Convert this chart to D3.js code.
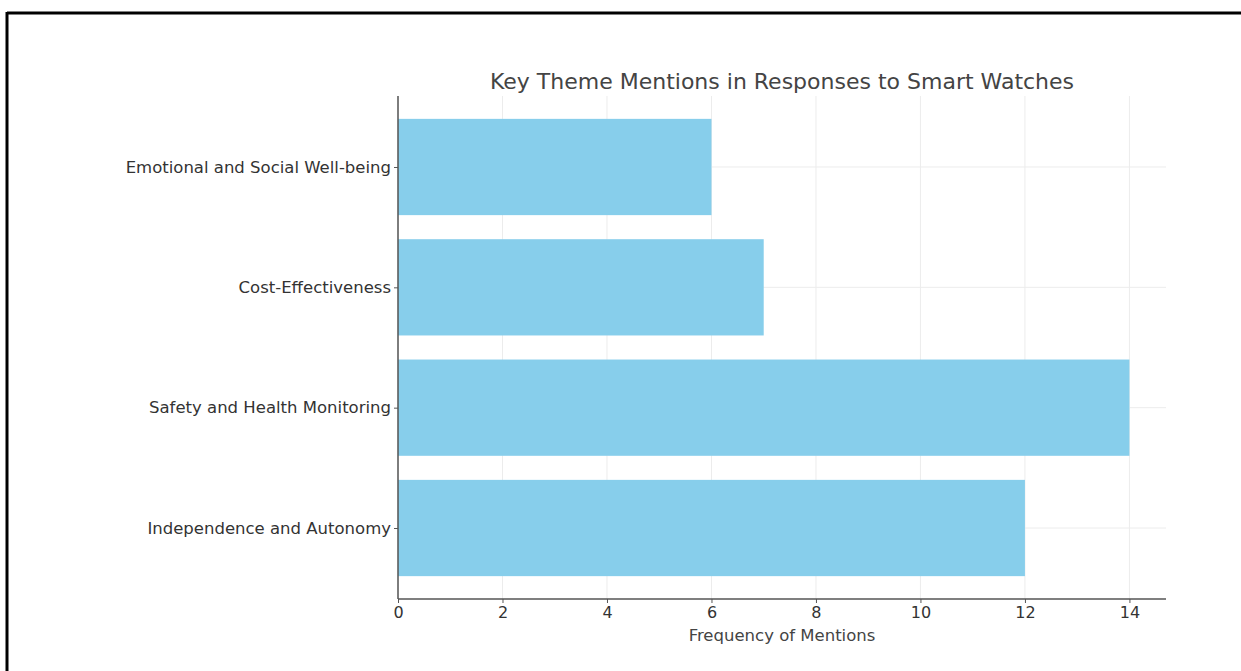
<!DOCTYPE html>
<html>
<head>
<meta charset="utf-8">
<script src="https://cdn.jsdelivr.net/npm/d3@7"></script>
<style>
  html, body { margin: 0; padding: 0; background: #fff; }
  svg { display: block; }
  text { font-family: "DejaVu Sans", sans-serif; }
</style>
</head>
<body>
<svg id="chart" width="1241" height="671"></svg>
<script>
// Themes, listed bottom to top as they appear on the chart
const themes = [
  "Independence and Autonomy",
  "Safety and Health Monitoring",
  "Cost-Effectiveness",
  "Emotional and Social Well-being"
];
const mentions = [12, 14, 7, 6];
const xTicks = [0, 2, 4, 6, 8, 10, 12, 14];

const svg = d3.select("#chart");
const W = 1241, H = 671;

// Outer frame (top and left edges)
svg.append("rect").attr("x", 0).attr("y", 0).attr("width", W).attr("height", H).attr("fill", "#fff");
svg.append("line").attr("x1", 7).attr("x2", W).attr("y1", 13).attr("y2", 13)
  .attr("stroke", "#000").attr("stroke-width", 3);
svg.append("line").attr("x1", 7).attr("x2", 7).attr("y1", 12).attr("y2", H)
  .attr("stroke", "#000").attr("stroke-width", 3);

const plot = { left: 398, right: 1166, top: 96, bottom: 599 };

const xMax = d3.max(mentions) * 1.05;
const x = d3.scaleLinear().domain([0, xMax]).range([plot.left, plot.right]);

// Category positions: bars centered on integer indices, with 5% margin
const n = themes.length;
const yPad = 0.4 + (n - 1 + 0.8) * 0.05;
const y = d3.scaleLinear().domain([-yPad, n - 1 + yPad]).range([plot.bottom, plot.top]);
const barHalf = 0.4;

// Grid
const grid = svg.append("g").attr("stroke", "#ececec").attr("stroke-width", 1);
grid.selectAll("line.vx").data(xTicks).join("line")
  .attr("x1", d => x(d)).attr("x2", d => x(d))
  .attr("y1", plot.top).attr("y2", plot.bottom);
grid.selectAll("line.hy").data(themes).join("line")
  .attr("x1", plot.left).attr("x2", plot.right)
  .attr("y1", (d, i) => y(i)).attr("y2", (d, i) => y(i));

// Bars
svg.append("g").selectAll("rect").data(mentions).join("rect")
  .attr("x", x(0))
  .attr("y", (d, i) => y(i + barHalf))
  .attr("width", d => x(d) - x(0))
  .attr("height", (d, i) => y(i - barHalf) - y(i + barHalf))
  .attr("fill", "#87CEEB");

// X axis
const xAxis = d3.axisBottom(x).tickValues(xTicks).tickSize(4).tickPadding(4).tickFormat(d3.format("d"));
const gx = svg.append("g").attr("transform", `translate(0,${plot.bottom})`).call(xAxis);
gx.select(".domain").attr("stroke", "#555").attr("stroke-width", 1.5).attr("d", `M${plot.left},0H${plot.right}`);
gx.selectAll(".tick line").attr("stroke", "#555");
gx.selectAll(".tick text").attr("fill", "#333").attr("font-size", 16);

// Y axis
const yAxis = d3.axisLeft(y).tickValues(d3.range(n)).tickSize(4).tickPadding(3).tickFormat(i => themes[i]);
const gy = svg.append("g").attr("transform", `translate(${plot.left},0)`).call(yAxis);
gy.select(".domain").attr("stroke", "#555").attr("stroke-width", 1.5).attr("d", `M0,${plot.top}V${plot.bottom}`);
gy.selectAll(".tick line").attr("stroke", "#555");
gy.selectAll(".tick text").attr("fill", "#333").attr("font-size", 16.5);

// Title and axis label
svg.append("text")
  .attr("x", (plot.left + plot.right) / 2).attr("y", 89)
  .attr("text-anchor", "middle").attr("fill", "#444").attr("font-size", 22)
  .text("Key Theme Mentions in Responses to Smart Watches");

svg.append("text")
  .attr("x", (plot.left + plot.right) / 2).attr("y", 641)
  .attr("text-anchor", "middle").attr("fill", "#444").attr("font-size", 16.5)
  .text("Frequency of Mentions");
</script>
</body>
</html>
